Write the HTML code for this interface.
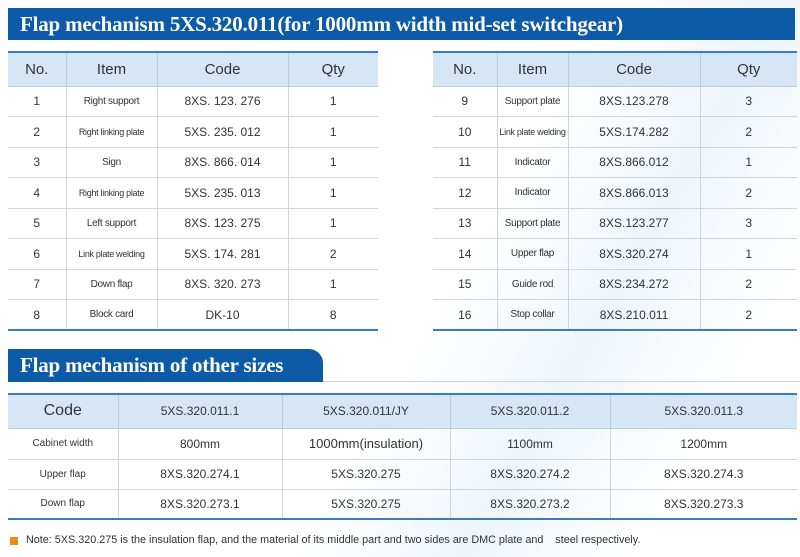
<!DOCTYPE html>
<html><head><meta charset="utf-8"><style>
*{margin:0;padding:0;box-sizing:border-box}
body{width:800px;height:557px;background:#fff;position:relative;overflow:hidden;font-family:"Liberation Sans",Arial,sans-serif;color:#333}
.bar{position:absolute;background:#0d5aa7;color:#fff;font-family:"Liberation Serif",serif;font-weight:bold;font-size:21px;line-height:32px;padding-left:12px;letter-spacing:-0.2px}
table{position:absolute;border-collapse:collapse;table-layout:fixed}
td{text-align:center;border-bottom:1px solid #d2d6da;font-size:12px;color:#333;padding:0}
tr.h td{background:#d5e7f6;font-size:15px;border-top:2px solid #3a7cc0;border-bottom:1px solid #b8cde0}
td+td{border-left:1px solid #d2d6da}
tr.h td+td{border-left:1px solid #b8cde0}
td.s{font-size:9px;letter-spacing:-0.3px}
tr.last td{border-bottom:2px solid #3a7cc0}
</style></head><body>
<div style="position:absolute;left:0;top:0;width:800px;height:557px;background:linear-gradient(120deg,#fff 0%,#fff 55%,#eef5fb 70%,#fff 85%)"></div>
<div class="bar" style="left:8px;top:8px;width:787px;height:32px">Flap mechanism 5XS.320.011(for 1000mm width mid-set switchgear)</div>

<table style="left:8px;top:51px;width:370px">
<colgroup><col style="width:58px"><col style="width:91px"><col style="width:131px"><col style="width:90px"></colgroup>
<tr class="h" style="height:34px"><td>No.</td><td>Item</td><td>Code</td><td>Qty</td></tr>
<tr style="height:30.5px"><td>1</td><td class="s" style="font-size:10px">Right support</td><td>8XS. 123. 276</td><td>1</td></tr>
<tr style="height:30.5px"><td>2</td><td class="s">Right linking plate</td><td>5XS. 235. 012</td><td>1</td></tr>
<tr style="height:30.5px"><td>3</td><td class="s" style="font-size:10px">Sign</td><td>8XS. 866. 014</td><td>1</td></tr>
<tr style="height:30.5px"><td>4</td><td class="s">Right linking plate</td><td>5XS. 235. 013</td><td>1</td></tr>
<tr style="height:30.5px"><td>5</td><td class="s" style="font-size:10px">Left support</td><td>8XS. 123. 275</td><td>1</td></tr>
<tr style="height:30.5px"><td>6</td><td class="s">Link plate welding</td><td>5XS. 174. 281</td><td>2</td></tr>
<tr style="height:30.5px"><td>7</td><td class="s" style="font-size:10px">Down flap</td><td>8XS. 320. 273</td><td>1</td></tr>
<tr style="height:30.5px" class="last"><td>8</td><td class="s" style="font-size:10px">Block card</td><td>DK-10</td><td>8</td></tr>
</table>

<table style="left:433px;top:51px;width:364px">
<colgroup><col style="width:64px"><col style="width:71px"><col style="width:132px"><col style="width:97px"></colgroup>
<tr class="h" style="height:34px"><td>No.</td><td>Item</td><td>Code</td><td>Qty</td></tr>
<tr style="height:30.5px"><td>9</td><td class="s" style="font-size:10px">Support plate</td><td>8XS.123.278</td><td>3</td></tr>
<tr style="height:30.5px"><td>10</td><td class="s">Link plate welding</td><td>5XS.174.282</td><td>2</td></tr>
<tr style="height:30.5px"><td>11</td><td class="s" style="font-size:10px">Indicator</td><td>8XS.866.012</td><td>1</td></tr>
<tr style="height:30.5px"><td>12</td><td class="s" style="font-size:10px">Indicator</td><td>8XS.866.013</td><td>2</td></tr>
<tr style="height:30.5px"><td>13</td><td class="s" style="font-size:10px">Support plate</td><td>8XS.123.277</td><td>3</td></tr>
<tr style="height:30.5px"><td>14</td><td class="s" style="font-size:10px">Upper flap</td><td>8XS.320.274</td><td>1</td></tr>
<tr style="height:30.5px"><td>15</td><td class="s" style="font-size:10px">Guide rod</td><td>8XS.234.272</td><td>2</td></tr>
<tr style="height:30.5px" class="last"><td>16</td><td class="s" style="font-size:10px">Stop collar</td><td>8XS.210.011</td><td>2</td></tr>
</table>

<div class="bar" style="left:8px;top:349px;width:315px;height:33px;border-top-right-radius:14px;line-height:33px">Flap mechanism of other sizes</div>
<div style="position:absolute;left:323px;top:381px;width:477px;height:1px;background:#d0d4d8"></div>

<table style="left:8px;top:393px;width:789px">
<colgroup><col style="width:110px"><col style="width:164px"><col style="width:168px"><col style="width:160px"><col style="width:187px"></colgroup>
<tr class="h" style="height:34px"><td style="font-size:16px">Code</td><td style="font-size:12px">5XS.320.011.1</td><td style="font-size:12px">5XS.320.011/JY</td><td style="font-size:12px">5XS.320.011.2</td><td style="font-size:12px">5XS.320.011.3</td></tr>
<tr style="height:31px"><td style="font-size:10px">Cabinet width</td><td>800mm</td><td style="font-size:13px">1000mm(insulation)</td><td>1100mm</td><td>1200mm</td></tr>
<tr style="height:30px"><td style="font-size:10px">Upper flap</td><td>8XS.320.274.1</td><td>5XS.320.275</td><td>8XS.320.274.2</td><td>8XS.320.274.3</td></tr>
<tr style="height:30px" class="last"><td style="font-size:10px">Down flap</td><td>8XS.320.273.1</td><td>5XS.320.275</td><td>8XS.320.273.2</td><td>8XS.320.273.3</td></tr>
</table>

<div style="position:absolute;left:10px;top:537px;width:8px;height:8px;background:#f08a1c"></div>
<div style="position:absolute;left:26px;top:534px;font-size:10.8px;color:#333;white-space:nowrap">Note: 5XS.320.275 is the insulation flap, and the material of its middle part and two sides are DMC plate and &nbsp;&nbsp; steel respectively.</div>
</body></html>
